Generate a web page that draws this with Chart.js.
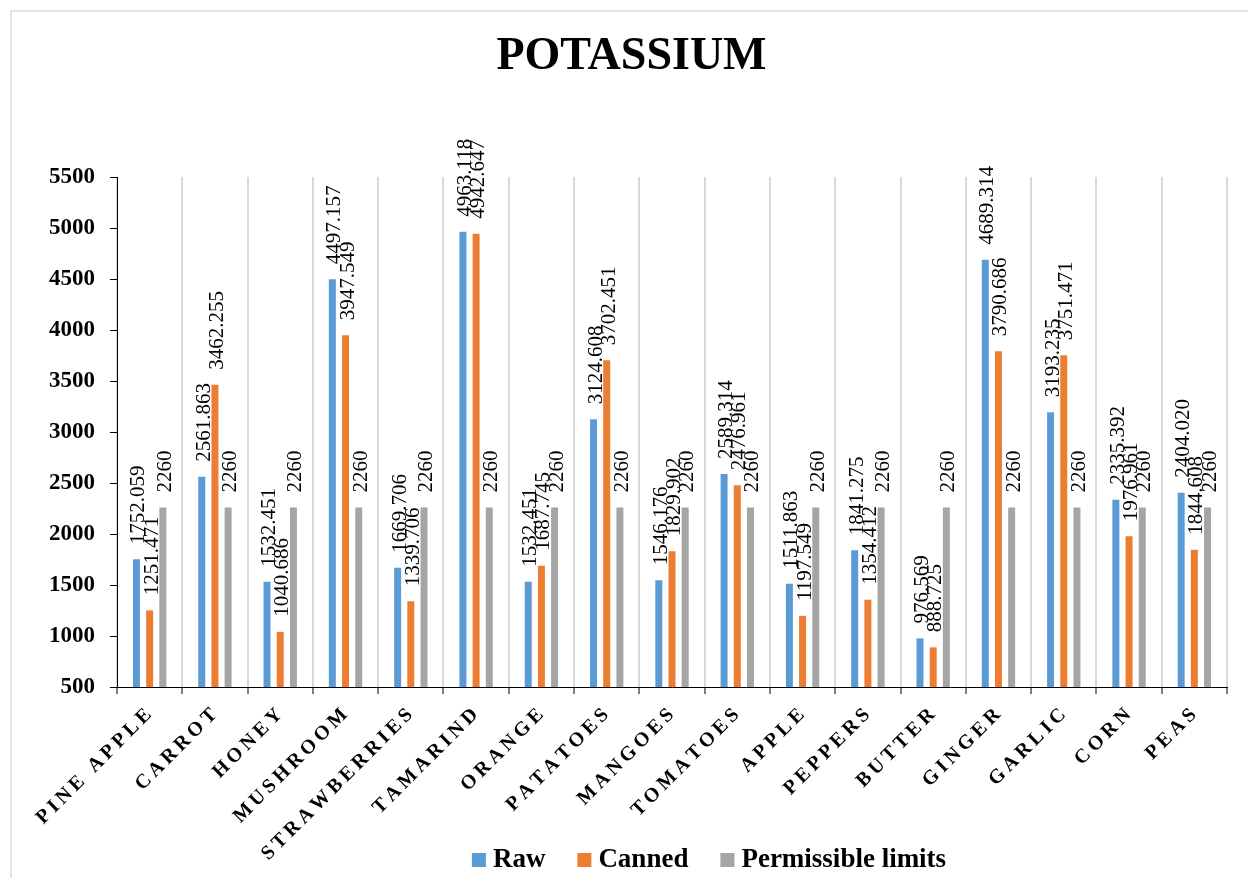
<!DOCTYPE html>
<html>
<head>
<meta charset="utf-8">
<title>Potassium</title>
<script src="https://cdn.jsdelivr.net/npm/chart.js@4/dist/chart.umd.min.js"></script>
<style>
  html, body { margin: 0; padding: 0; background: #ffffff; }
  #wrap { position: relative; width: 1248px; height: 878px; }
</style>
</head>
<body>
<div id="wrap"><canvas id="chart" width="1248" height="878"></canvas></div>
<script>
// Potassium content per food item
const categories = ['PINE APPLE', 'CARROT', 'HONEY', 'MUSHROOM', 'STRAWBERRIES', 'TAMARIND', 'ORANGE',
  'PATATOES', 'MANGOES', 'TOMATOES', 'APPLE', 'PEPPERS', 'BUTTER', 'GINGER', 'GARLIC', 'CORN', 'PEAS'];

const rawValues = [1752.059, 2561.863, 1532.451, 4497.157, 1669.706, 4963.118, 1532.451, 3124.608,
  1546.176, 2589.314, 1511.863, 1841.275, 976.569, 4689.314, 3193.235, 2335.392, 2404.020];

const cannedValues = [1251.471, 3462.255, 1040.686, 3947.549, 1339.706, 4942.647, 1687.745, 3702.451,
  1829.902, 2476.961, 1197.549, 1354.412, 888.725, 3790.686, 3751.471, 1976.961, 1844.608];

const permissibleValues = [2260, 2260, 2260, 2260, 2260, 2260, 2260, 2260,
  2260, 2260, 2260, 2260, 2260, 2260, 2260, 2260, 2260];

const seriesNames = ['Raw', 'Canned', 'Permissible limits'];
const yMin = 500;
const yMax = 5500;
const yStep = 500;

const SERIF = '"Liberation Serif", "Times New Roman", Times, serif';
const COLORS = ['#5B9BD5', '#ED7D31', '#A5A5A5'];

// Light frame along the top and left edges plus white background
const framePlugin = {
  id: 'frame',
  beforeDraw(chart) {
    const ctx = chart.ctx;
    ctx.save();
    ctx.fillStyle = '#ffffff';
    ctx.fillRect(0, 0, chart.width, chart.height);
    ctx.strokeStyle = '#d9d9d9';
    ctx.lineWidth = 1.5;
    ctx.beginPath();
    ctx.moveTo(11, chart.height);
    ctx.lineTo(11, 11);
    ctx.lineTo(chart.width, 11);
    ctx.stroke();
    ctx.restore();
  }
};

// Vertical value labels above each bar
const valueLabelPlugin = {
  id: 'valueLabels',
  afterDatasetsDraw(chart) {
    const ctx = chart.ctx;
    ctx.save();
    ctx.font = '21px ' + SERIF;
    ctx.fillStyle = '#000000';
    ctx.textAlign = 'left';
    ctx.textBaseline = 'alphabetic';
    chart.data.datasets.forEach((ds, di) => {
      const meta = chart.getDatasetMeta(di);
      meta.data.forEach((bar, i) => {
        const v = ds.data[i];
        const txt = Number.isInteger(v) ? String(v) : v.toFixed(3);
        ctx.save();
        ctx.translate(bar.x + 8, bar.y - 15);
        ctx.rotate(-Math.PI / 2);
        ctx.fillText(txt, 0, 0);
        ctx.restore();
      });
    });
    ctx.restore();
  }
};

// Letter-spaced, slanted category names under the x axis
const categoryLabelPlugin = {
  id: 'categoryLabels',
  afterDraw(chart) {
    const ctx = chart.ctx;
    const xs = chart.scales.x;
    const spacing = 4;
    ctx.save();
    ctx.font = 'bold 20px ' + SERIF;
    ctx.fillStyle = '#000000';
    ctx.textAlign = 'left';
    ctx.textBaseline = 'middle';
    chart.data.labels.forEach((name, i) => {
      const cx = xs.getPixelForValue(i);
      const chars = Array.from(name);
      const widths = chars.map(c => ctx.measureText(c).width);
      const total = widths.reduce((a, b) => a + b, 0) + spacing * (chars.length - 1);
      ctx.save();
      ctx.translate(cx - 1, xs.top + 25);
      ctx.rotate(-Math.PI / 4);
      let x = -total;
      chars.forEach((c, k) => {
        ctx.fillText(c, x, 0);
        x += widths[k] + spacing;
      });
      ctx.restore();
    });
    ctx.restore();
  }
};

// Legend row at the bottom
const legendPlugin = {
  id: 'bottomLegend',
  afterDraw(chart) {
    const ctx = chart.ctx;
    const box = 14, gapText = 7, gapItem = 32;
    ctx.save();
    ctx.font = 'bold 27px ' + SERIF;
    ctx.textAlign = 'left';
    ctx.textBaseline = 'alphabetic';
    const items = chart.data.datasets.map(ds => ({
      text: ds.label, color: ds.backgroundColor, w: ctx.measureText(ds.label).width
    }));
    const total = items.reduce((s, it) => s + box + gapText + it.w, 0) + gapItem * (items.length - 1);
    let x = 709 - total / 2;
    const baseline = 867;
    items.forEach(it => {
      ctx.fillStyle = it.color;
      ctx.fillRect(x, baseline - box, box, box);
      x += box + gapText;
      ctx.fillStyle = '#000000';
      ctx.fillText(it.text, x, baseline);
      x += it.w + gapItem;
    });
    ctx.restore();
  }
};

const values = [rawValues, cannedValues, permissibleValues];

new Chart(document.getElementById('chart'), {
  type: 'bar',
  data: {
    labels: categories,
    datasets: seriesNames.map((name, k) => ({
      label: name,
      data: values[k],
      backgroundColor: COLORS[k],
      borderWidth: 0,
      categoryPercentage: 0.606,
      barPercentage: 0.53
    }))
  },
  options: {
    responsive: false,
    animation: false,
    events: [],
    layout: { padding: { left: 36, right: 21, top: 0, bottom: 0 } },
    plugins: {
      legend: { display: false },
      tooltip: { enabled: false },
      title: {
        display: true,
        text: 'POTASSIUM',
        color: '#000000',
        font: { family: SERIF, size: 46, weight: 'bold' },
        padding: { top: 30, bottom: 91.8 }
      }
    },
    scales: {
      x: {
        offset: true,
        grid: {
          display: true,
          offset: true,
          drawOnChartArea: true,
          color: '#d9d9d9',
          lineWidth: 2,
          drawTicks: true,
          tickLength: 7,
          tickColor: '#000000',
          tickWidth: 1
        },
        border: { display: true, color: '#000000', width: 1 },
        ticks: { display: false },
        afterFit(scale) { scale.height = 191; }
      },
      y: {
        min: yMin,
        max: yMax,
        grid: {
          drawOnChartArea: false,
          drawTicks: true,
          tickLength: 7,
          tickColor: '#000000',
          tickWidth: 1
        },
        border: { display: true, color: '#000000', width: 1 },
        ticks: {
          stepSize: yStep,
          padding: 15,
          color: '#000000',
          font: { family: SERIF, size: 23, weight: 'bold' },
          callback: v => String(v)
        },
        afterFit(scale) { scale.width = 81; }
      }
    }
  },
  plugins: [framePlugin, valueLabelPlugin, categoryLabelPlugin, legendPlugin]
});
</script>
</body>
</html>
